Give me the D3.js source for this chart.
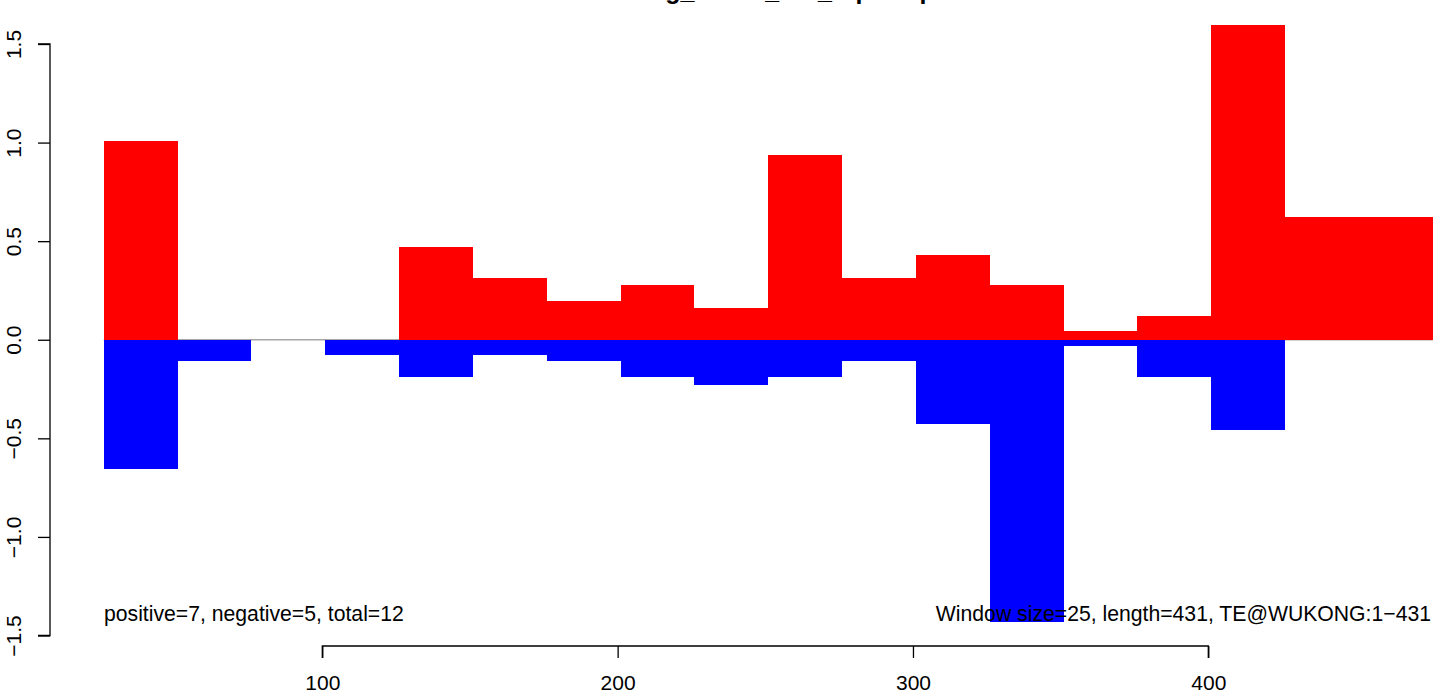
<!DOCTYPE html>
<html>
<head>
<meta charset="utf-8">
<script src="https://cdn.jsdelivr.net/npm/d3@7"></script>
<style>
  body { margin: 0; background: #fff; }
  text { font-family: "Liberation Sans", Arial, sans-serif; fill: #000; }
</style>
</head>
<body>
<div id="chart-container"></div>
<script>
// window bins along the TE (position), one red (positive) and one blue (negative) value each
const windowStart = [26, 51, 76, 101, 126, 151, 176, 201, 226, 251, 276, 301, 326, 351, 376, 401, 426]
const windowEnd   = [51, 76, 101, 126, 151, 176, 201, 226, 251, 276, 301, 326, 351, 376, 401, 426, 476]
const positive = [1.01, 0, 0, 0, 0.47, 0.315, 0.195, 0.28, 0.163, 0.935, 0.315, 0.43, 0.28, 0.045, 0.12, 1.595, 0.625]
const negative = [-0.658, -0.11, 0, -0.076, -0.19, -0.076, -0.11, -0.19, -0.228, -0.19, -0.11, -0.425, -1.432, -0.034, -0.19, -0.46, 0]
const xTicks = [100, 200, 300, 400]
const yTicks = [-1.5, -1.0, -0.5, 0.0, 0.5, 1.0, 1.5]

const title = "wukong_sense_WT_rep10.cpm"
const leftNote = "positive=7, negative=5, total=12"
const rightNote = "Window size=25, length=431, TE@WUKONG:1\u2212431"

document.addEventListener('DOMContentLoaded', function(){

    const width = 1444
    const height = 694

    const svg = d3.select('#chart-container')
        .append('svg')
        .attr('width', width)
        .attr('height', height)

    const x = d3.scaleLinear()
        .domain([100, 400])
        .range([322.3, 1208.3])

    const y = d3.scaleLinear()
        .domain([-1.5, 1.5])
        .range([635.5, 44])

    const bins = windowStart.map((s, i) => ({
        start: s, end: windowEnd[i], pos: positive[i], neg: negative[i]
    }))

    // zero line
    svg.append('line')
        .attr('x1', x(d3.min(windowStart))).attr('x2', x(d3.max(windowEnd)))
        .attr('y1', y(0)).attr('y2', y(0))
        .attr('stroke', '#a6a6a6').attr('stroke-width', 1.5)

    svg.append('g').selectAll('rect.pos')
        .data(bins.filter(d => d.pos > 0))
        .join('rect')
        .attr('x', d => x(d.start))
        .attr('width', d => x(d.end) - x(d.start))
        .attr('y', d => y(d.pos))
        .attr('height', d => y(0) - y(d.pos))
        .attr('fill', '#ff0000')
        .attr('shape-rendering', 'crispEdges')

    svg.append('g').selectAll('rect.neg')
        .data(bins.filter(d => d.neg < 0))
        .join('rect')
        .attr('x', d => x(d.start))
        .attr('width', d => x(d.end) - x(d.start))
        .attr('y', y(0))
        .attr('height', d => y(d.neg) - y(0))
        .attr('fill', '#0000ff')
        .attr('shape-rendering', 'crispEdges')

    // x axis (R style: line only between outer ticks)
    const xAxis = svg.append('g')
        .attr('transform', 'translate(0,646)')
        .call(d3.axisBottom(x).tickValues(xTicks).tickSize(12).tickPadding(20).tickFormat(d3.format('d')))
    xAxis.select('.domain').attr('d', `M${x(100)},12V0H${x(400)}V12`)
    xAxis.selectAll('path, line').attr('stroke', '#000').attr('stroke-width', 1.3)
    xAxis.selectAll('text')
        .style('font-size', '21px')
        .style('font-family', '"Liberation Sans", Arial, sans-serif')
        .attr('y', 44).attr('dy', null)

    // y axis
    const yAxis = svg.append('g')
        .attr('transform', 'translate(50,0)')
        .call(d3.axisLeft(y).tickValues(yTicks).tickSize(12).tickFormat(d => d3.format('.1f')(d).replace('-', '\u2212')))
    yAxis.select('.domain').attr('d', `M-12,${y(-1.5)}H0V${y(1.5)}H-12`)
    yAxis.selectAll('path, line').attr('stroke', '#000').attr('stroke-width', 1.3)
    yAxis.selectAll('.tick text')
        .style('font-size', '21px')
        .style('font-family', '"Liberation Sans", Arial, sans-serif')
        .attr('x', null).attr('dy', null)
        .attr('text-anchor', 'middle')
        .attr('transform', 'translate(-29,0) rotate(-90)')

    svg.append('text')
        .attr('x', 586).attr('y', -1)
        .style('font-size', '25px').style('font-weight', 'bold')
        .text(title)

    svg.append('text')
        .attr('x', 104).attr('y', 621)
        .style('font-size', '21.2px')
        .text(leftNote)

    svg.append('text')
        .attr('x', 1431).attr('y', 621)
        .attr('text-anchor', 'end')
        .style('font-size', '21.2px')
        .text(rightNote)
})
</script>
</body>
</html>
